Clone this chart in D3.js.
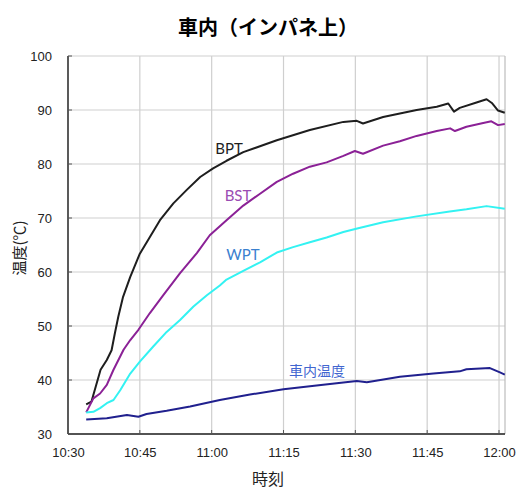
<!DOCTYPE html>
<html>
<head>
<meta charset="utf-8">
<script src="https://cdn.jsdelivr.net/npm/d3@7"></script>
<style>
  html, body { margin: 0; padding: 0; background: #fff; }
  svg { display: block; }
</style>
</head>
<body>
<svg id="chart" width="516" height="493"></svg>
<script>
// Temperature log, instrument panel top (車内・インパネ上)
const title = "車内（インパネ上）";
const xTitle = "時刻";
const yTitle = "温度(℃)";

const xTickLabels = ["10:30", "10:45", "11:00", "11:15", "11:30", "11:45", "12:00"];
const yTickValues = [30, 40, 50, 60, 70, 80, 90, 100];

const seriesNames = ["BPT", "BST", "WPT", "車内温度"];

const bptTimes = ["10:33:48","10:34:54","10:35:48","10:36:48","10:38:06","10:39:06","10:39:48","10:40:30","10:41:30","10:43:00","10:45:00","10:47:06","10:49:12","10:52:00","10:54:48","10:57:36","11:00:18","11:03:06","11:06:36","11:13:36","11:20:30","11:27:30","11:30:18","11:31:36","11:35:48","11:42:48","11:47:00","11:49:24","11:50:36","11:51:48","11:55:18","11:57:24","11:58:30","11:59:48","12:01:12"];
const bptValues = [35.5,36.0,38.8,41.9,43.7,45.5,48.7,51.7,55.4,59.1,63.4,66.5,69.6,72.7,75.2,77.6,79.2,80.6,82.2,84.4,86.3,87.8,88.0,87.5,88.7,90.0,90.6,91.2,89.7,90.4,91.4,92.0,91.3,89.9,89.5];

const bstTimes = ["10:33:48","10:35:18","10:36:42","10:38:06","10:39:30","10:41:36","10:43:00","10:44:42","10:47:06","10:49:54","10:53:24","10:56:54","10:59:36","11:03:06","11:06:36","11:10:06","11:13:36","11:17:00","11:20:30","11:24:00","11:27:30","11:29:54","11:31:36","11:35:48","11:39:18","11:42:48","11:47:00","11:49:48","11:50:48","11:53:12","11:56:42","11:58:24","11:59:48","12:01:12"];
const bstValues = [34.0,36.6,37.5,39.1,41.9,45.6,47.4,49.3,52.4,55.7,59.8,63.5,66.8,69.6,72.3,74.5,76.7,78.2,79.5,80.3,81.5,82.4,81.9,83.4,84.2,85.2,86.1,86.6,86.1,86.9,87.6,87.9,87.2,87.4];

const wptTimes = ["10:33:48","10:35:18","10:36:42","10:38:06","10:39:30","10:40:54","10:43:00","10:45:00","10:47:48","10:50:36","10:53:24","10:56:12","10:59:00","11:01:42","11:03:06","11:06:36","11:10:06","11:13:36","11:17:00","11:20:30","11:24:00","11:27:30","11:30:36","11:35:48","11:42:48","11:49:42","11:53:12","11:57:24","12:01:12"];
const wptValues = [34.0,34.1,34.8,35.7,36.3,38.1,41.2,43.4,46.2,48.9,51.1,53.6,55.7,57.5,58.6,60.2,61.8,63.6,64.6,65.5,66.4,67.4,68.1,69.2,70.3,71.2,71.6,72.2,71.7];

const cabinTimes = ["10:33:48","10:38:06","10:42:18","10:44:42","10:46:24","10:50:36","10:55:30","11:01:42","11:08:00","11:15:00","11:21:54","11:30:18","11:32:24","11:39:18","11:46:18","11:51:48","11:53:12","11:58:06","12:00:12","12:01:12"];
const cabinValues = [32.7,32.9,33.5,33.2,33.7,34.3,35.1,36.3,37.3,38.3,39.0,39.8,39.6,40.6,41.2,41.6,42.0,42.2,41.4,41.0];

const lineColors = ["#1e1e1e", "#8b2196", "#33f2f2", "#20208e"];
const labelColors = ["#1e1e1e", "#9a4cb3", "#3a80cf", "#4266d0"];

// ---- layout ----
const svg = d3.select("#chart");
const margin = { left: 68, right: 11, top: 56, bottom: 59 };
const W = 516, H = 493;
const iw = W - margin.left - margin.right;
const ih = H - margin.top - margin.bottom;

const parseT = d3.timeParse("%H:%M:%S");
const parseTick = d3.timeParse("%H:%M");

const x = d3.scaleTime()
  .domain([parseTick("10:30"), parseT("12:01:15")])
  .range([0, iw]);
const y = d3.scaleLinear().domain([30, 100]).range([ih, 0]);

const g = svg.append("g").attr("transform", `translate(${margin.left},${margin.top})`);

// title
svg.append("text")
  .attr("x", 268).attr("y", 35)
  .attr("text-anchor", "middle")
  .attr("font-family", "'Noto Sans CJK JP', sans-serif")
  .attr("font-weight", 700)
  .attr("font-size", 20)
  .attr("fill", "#000")
  .text(title);

// gridlines
const xTicks = xTickLabels.map(parseTick);
g.append("g").selectAll("line.gx").data(xTicks).join("line")
  .attr("x1", d => x(d)).attr("x2", d => x(d))
  .attr("y1", 0).attr("y2", ih)
  .attr("stroke", "#cfcfcf").attr("stroke-width", 1.2);
g.append("g").selectAll("line.gy").data(yTickValues).join("line")
  .attr("x1", 0).attr("x2", iw)
  .attr("y1", d => y(d)).attr("y2", d => y(d))
  .attr("stroke", "#cfcfcf").attr("stroke-width", 1.2);

// right border
g.append("line").attr("x1", iw).attr("x2", iw).attr("y1", 0).attr("y2", ih)
  .attr("stroke", "#bdbdbd").attr("stroke-width", 1.2);

// axes
const xAxis = d3.axisBottom(x).tickValues(xTicks).tickFormat(d3.timeFormat("%H:%M")).tickSize(0).tickPadding(14);
const yAxis = d3.axisLeft(y).tickValues(yTickValues).tickSize(0).tickPadding(16);

const gx = g.append("g").attr("transform", `translate(0,${ih})`).call(xAxis);
const gy = g.append("g").call(yAxis);
[gx, gy].forEach(a => {
  a.select(".domain").attr("stroke", "#222").attr("stroke-width", 1.4);
  a.selectAll("text")
    .attr("font-family", "'Liberation Sans', Arial, sans-serif")
    .attr("font-size", 13)
    .attr("fill", "#222");
});
gx.select(".domain").attr("d", `M0,0H${iw}`);
gy.select(".domain").attr("d", `M0,${ih}V0`);

// small inner ticks
g.append("g").selectAll("line").data(yTickValues).join("line")
  .attr("x1", 0).attr("x2", 4).attr("y1", d => y(d)).attr("y2", d => y(d))
  .attr("stroke", "#555");
g.append("g").selectAll("line").data(xTicks).join("line")
  .attr("x1", d => x(d)).attr("x2", d => x(d)).attr("y1", ih).attr("y2", ih - 4)
  .attr("stroke", "#555");

// axis titles
svg.append("text")
  .attr("x", 268).attr("y", 485)
  .attr("text-anchor", "middle")
  .attr("font-family", "'Noto Sans CJK JP', sans-serif")
  .attr("font-size", 16)
  .attr("fill", "#222")
  .text(xTitle);
svg.append("text")
  .attr("transform", "translate(25,248) rotate(-90)")
  .attr("text-anchor", "middle")
  .attr("font-family", "'Noto Sans CJK JP', sans-serif")
  .attr("font-size", 15)
  .attr("fill", "#222")
  .text(yTitle);

// series
const series = [
  { times: bptTimes, values: bptValues },
  { times: bstTimes, values: bstValues },
  { times: wptTimes, values: wptValues },
  { times: cabinTimes, values: cabinValues }
];

const line = d3.line()
  .x(d => x(d.t))
  .y(d => y(d.v));

series.forEach((s, i) => {
  const pts = s.times.map((t, k) => ({ t: parseT(t), v: s.values[k] }));
  g.append("path")
    .datum(pts)
    .attr("fill", "none")
    .attr("stroke", lineColors[i])
    .attr("stroke-width", 2)
    .attr("stroke-linejoin", "round")
    .attr("d", line);
});

// series labels
const labelPos = [
  { x: 229, y: 154, font: "Lato, 'Open Sans', sans-serif", size: 15 },
  { x: 238, y: 201, font: "Lato, 'Open Sans', sans-serif", size: 15 },
  { x: 243, y: 260, font: "Lato, 'Open Sans', sans-serif", size: 15 },
  { x: 317, y: 376, font: "'Noto Sans CJK JP', sans-serif", size: 14 }
];
seriesNames.forEach((name, i) => {
  svg.append("text")
    .attr("x", labelPos[i].x).attr("y", labelPos[i].y)
    .attr("text-anchor", "middle")
    .attr("font-family", labelPos[i].font)
    .attr("font-size", labelPos[i].size)
    .attr("fill", labelColors[i])
    .text(name);
});
</script>
</body>
</html>
